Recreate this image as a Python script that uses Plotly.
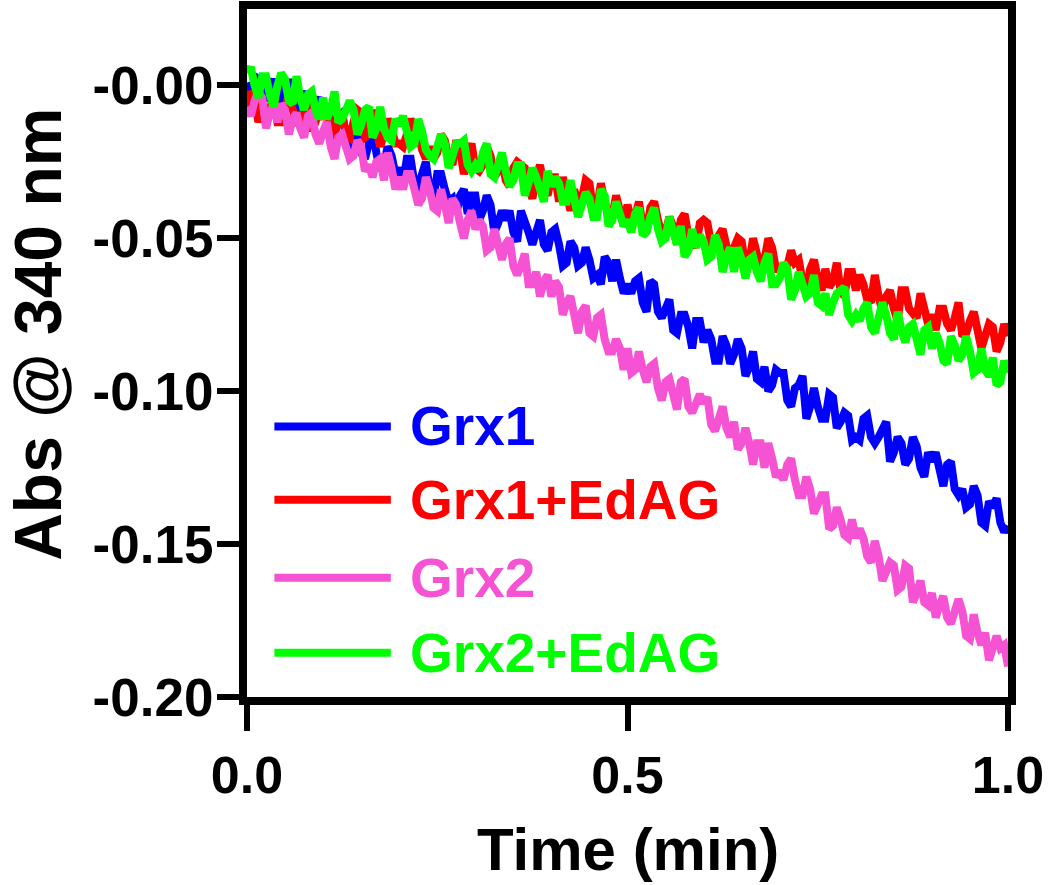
import plotly.graph_objects as go

# ---------------- data ----------------
# readings on the whole 0.01-min grid
TIME = [0.00, 0.01, 0.02, 0.03, 0.04, 0.05, 0.06, 0.07, 0.08, 0.09,
        0.10, 0.11, 0.12, 0.13, 0.14, 0.15, 0.16, 0.17, 0.18, 0.19,
        0.20, 0.21, 0.22, 0.23, 0.24, 0.25, 0.26, 0.27, 0.28, 0.29,
        0.30, 0.31, 0.32, 0.33, 0.34, 0.35, 0.36, 0.37, 0.38, 0.39,
        0.40, 0.41, 0.42, 0.43, 0.44, 0.45, 0.46, 0.47, 0.48, 0.49,
        0.50, 0.51, 0.52, 0.53, 0.54, 0.55, 0.56, 0.57, 0.58, 0.59,
        0.60, 0.61, 0.62, 0.63, 0.64, 0.65, 0.66, 0.67, 0.68, 0.69,
        0.70, 0.71, 0.72, 0.73, 0.74, 0.75, 0.76, 0.77, 0.78, 0.79,
        0.80, 0.81, 0.82, 0.83, 0.84, 0.85, 0.86, 0.87, 0.88, 0.89,
        0.90, 0.91, 0.92, 0.93, 0.94, 0.95, 0.96, 0.97, 0.98, 0.99,
        1.00]

# readings in between (half steps) - the noisy spikes of the traces
TIME_HALF = [0.005, 0.015, 0.025, 0.035, 0.045, 0.055, 0.065, 0.075, 0.085, 0.095,
             0.105, 0.115, 0.125, 0.135, 0.145, 0.155, 0.165, 0.175, 0.185, 0.195,
             0.205, 0.215, 0.225, 0.235, 0.245, 0.255, 0.265, 0.275, 0.285, 0.295,
             0.305, 0.315, 0.325, 0.335, 0.345, 0.355, 0.365, 0.375, 0.385, 0.395,
             0.405, 0.415, 0.425, 0.435, 0.445, 0.455, 0.465, 0.475, 0.485, 0.495,
             0.505, 0.515, 0.525, 0.535, 0.545, 0.555, 0.565, 0.575, 0.585, 0.595,
             0.605, 0.615, 0.625, 0.635, 0.645, 0.655, 0.665, 0.675, 0.685, 0.695,
             0.705, 0.715, 0.725, 0.735, 0.745, 0.755, 0.765, 0.775, 0.785, 0.795,
             0.805, 0.815, 0.825, 0.835, 0.845, 0.855, 0.865, 0.875, 0.885, 0.895,
             0.905, 0.915, 0.925, 0.935, 0.945, 0.955, 0.965, 0.975, 0.985, 0.995]

GRX1 = [0.001, -0.002, 0.001, -0.001, -0.003, 0.001, -0.005, -0.004, -0.009, -0.006,
        -0.009, -0.012, -0.010, -0.017, -0.013, -0.022, -0.019, -0.022, -0.025, -0.023,
        -0.027, -0.024, -0.032, -0.029, -0.034, -0.029, -0.034, -0.037, -0.036, -0.042,
        -0.036, -0.041, -0.039, -0.045, -0.044, -0.048, -0.041, -0.048, -0.048, -0.052,
        -0.048, -0.052, -0.058, -0.053, -0.058, -0.057, -0.062, -0.056, -0.064, -0.063,
        -0.065, -0.064, -0.071, -0.064, -0.074, -0.073, -0.080, -0.075, -0.079, -0.077,
        -0.084, -0.083, -0.090, -0.085, -0.088, -0.086, -0.092, -0.096, -0.092, -0.098,
        -0.094, -0.103, -0.099, -0.095, -0.105, -0.105, -0.109, -0.102, -0.110, -0.108,
        -0.115, -0.109, -0.115, -0.115, -0.110, -0.120, -0.117, -0.122, -0.118, -0.128,
        -0.123, -0.127, -0.124, -0.132, -0.132, -0.137, -0.134, -0.144, -0.138, -0.143,
        -0.144]
GRX1_HALF = [-0.003, 0.002, -0.005, 0.002, -0.007, 0.001, -0.010, -0.002, -0.010, -0.004,
             -0.006, -0.015, -0.009, -0.022, -0.015, -0.024, -0.015, -0.028, -0.020, -0.029,
             -0.032, -0.024, -0.033, -0.025, -0.037, -0.029, -0.038, -0.042, -0.034, -0.036,
             -0.044, -0.036, -0.048, -0.041, -0.041, -0.051, -0.044, -0.052, -0.044, -0.054,
             -0.047, -0.059, -0.051, -0.059, -0.053, -0.063, -0.065, -0.058, -0.057, -0.068,
             -0.068, -0.063, -0.074, -0.065, -0.076, -0.070, -0.081, -0.075, -0.086, -0.077,
             -0.080, -0.090, -0.082, -0.091, -0.083, -0.095, -0.087, -0.097, -0.100, -0.093,
             -0.094, -0.105, -0.098, -0.109, -0.099, -0.109, -0.101, -0.112, -0.107, -0.116,
             -0.116, -0.108, -0.117, -0.112, -0.123, -0.115, -0.124, -0.115, -0.125, -0.120,
             -0.120, -0.131, -0.123, -0.134, -0.138, -0.131, -0.143, -0.136, -0.135, -0.146]

GRX1_EDAG = [-0.008, -0.004, -0.008, -0.008, -0.012, -0.007, -0.008, -0.013, -0.006, -0.012,
             -0.011, -0.014, -0.009, -0.016, -0.012, -0.009, -0.016, -0.015, -0.016, -0.014,
             -0.019, -0.016, -0.014, -0.021, -0.020, -0.022, -0.018, -0.026, -0.021, -0.023,
             -0.027, -0.026, -0.023, -0.028, -0.031, -0.027, -0.026, -0.033, -0.030, -0.033,
             -0.030, -0.038, -0.035, -0.034, -0.037, -0.032, -0.040, -0.038, -0.043, -0.041,
             -0.039, -0.043, -0.046, -0.040, -0.044, -0.048, -0.046, -0.044, -0.049, -0.053,
             -0.044, -0.052, -0.049, -0.054, -0.053, -0.051, -0.058, -0.055, -0.057, -0.053,
             -0.060, -0.059, -0.058, -0.064, -0.060, -0.063, -0.060, -0.064, -0.067, -0.061,
             -0.067, -0.065, -0.071, -0.069, -0.069, -0.073, -0.067, -0.073, -0.076, -0.072,
             -0.075, -0.073, -0.078, -0.076, -0.082, -0.077, -0.080, -0.082, -0.079, -0.084,
             -0.082]
GRX1_EDAG_HALF = [-0.002, -0.012, -0.010, -0.003, -0.012, -0.003, -0.012, -0.006, -0.015, -0.008,
                  -0.007, -0.018, -0.009, -0.017, -0.008, -0.017, -0.008, -0.020, -0.011, -0.019,
                  -0.020, -0.011, -0.015, -0.024, -0.024, -0.016, -0.024, -0.018, -0.029, -0.019,
                  -0.028, -0.020, -0.030, -0.024, -0.033, -0.025, -0.027, -0.037, -0.026, -0.036,
                  -0.030, -0.030, -0.041, -0.039, -0.031, -0.041, -0.032, -0.042, -0.036, -0.046,
                  -0.044, -0.038, -0.048, -0.038, -0.049, -0.043, -0.052, -0.042, -0.051, -0.045,
                  -0.045, -0.054, -0.047, -0.058, -0.050, -0.059, -0.050, -0.060, -0.050, -0.060,
                  -0.062, -0.054, -0.057, -0.067, -0.057, -0.067, -0.066, -0.058, -0.069, -0.061,
                  -0.062, -0.070, -0.062, -0.074, -0.067, -0.077, -0.067, -0.075, -0.068, -0.078,
                  -0.080, -0.073, -0.080, -0.071, -0.081, -0.074, -0.086, -0.078, -0.087, -0.078]

GRX2 = [-0.007, -0.005, -0.004, -0.009, -0.012, -0.008, -0.011, -0.014, -0.010, -0.016,
        -0.015, -0.020, -0.017, -0.020, -0.023, -0.020, -0.026, -0.025, -0.031, -0.027,
        -0.030, -0.029, -0.034, -0.037, -0.034, -0.041, -0.039, -0.037, -0.045, -0.044,
        -0.047, -0.046, -0.053, -0.052, -0.052, -0.059, -0.059, -0.065, -0.061, -0.064,
        -0.069, -0.066, -0.071, -0.075, -0.074, -0.081, -0.076, -0.083, -0.087, -0.086,
        -0.086, -0.093, -0.093, -0.092, -0.099, -0.097, -0.101, -0.097, -0.105, -0.104,
        -0.104, -0.111, -0.109, -0.112, -0.110, -0.117, -0.117, -0.117, -0.125, -0.122,
        -0.126, -0.124, -0.129, -0.134, -0.132, -0.137, -0.134, -0.144, -0.142, -0.148,
        -0.148, -0.148, -0.156, -0.154, -0.159, -0.157, -0.164, -0.158, -0.166, -0.169,
        -0.166, -0.170, -0.174, -0.172, -0.172, -0.181, -0.179, -0.179, -0.184, -0.184,
        -0.190]
GRX2_HALF = [-0.010, -0.002, -0.014, -0.006, -0.006, -0.016, -0.009, -0.017, -0.009, -0.019,
             -0.012, -0.024, -0.016, -0.024, -0.018, -0.028, -0.030, -0.024, -0.022, -0.034,
             -0.034, -0.029, -0.039, -0.030, -0.040, -0.034, -0.045, -0.039, -0.050, -0.041,
             -0.044, -0.054, -0.047, -0.057, -0.050, -0.062, -0.055, -0.065, -0.069, -0.062,
             -0.064, -0.075, -0.069, -0.081, -0.072, -0.082, -0.075, -0.087, -0.083, -0.093,
             -0.094, -0.087, -0.097, -0.091, -0.103, -0.096, -0.106, -0.096, -0.107, -0.101,
             -0.102, -0.113, -0.105, -0.115, -0.119, -0.112, -0.124, -0.117, -0.117, -0.128,
             -0.129, -0.122, -0.134, -0.128, -0.140, -0.134, -0.145, -0.138, -0.147, -0.142,
             -0.145, -0.154, -0.149, -0.162, -0.156, -0.165, -0.157, -0.169, -0.162, -0.170,
             -0.174, -0.167, -0.176, -0.168, -0.180, -0.173, -0.183, -0.188, -0.180, -0.183]

GRX2_EDAG = [0.004, 0.000, 0.003, -0.003, 0.000, 0.002, -0.006, -0.004, -0.003, -0.008,
             -0.004, -0.008, -0.012, -0.008, -0.008, -0.013, -0.007, -0.014, -0.014, -0.018,
             -0.013, -0.015, -0.019, -0.015, -0.023, -0.020, -0.019, -0.023, -0.019, -0.026,
             -0.026, -0.022, -0.029, -0.026, -0.028, -0.031, -0.026, -0.032, -0.030, -0.038,
             -0.033, -0.032, -0.038, -0.037, -0.039, -0.037, -0.043, -0.036, -0.044, -0.042,
             -0.044, -0.042, -0.049, -0.043, -0.047, -0.050, -0.048, -0.046, -0.054, -0.053,
             -0.051, -0.056, -0.052, -0.056, -0.061, -0.057, -0.057, -0.061, -0.058, -0.065,
             -0.063, -0.060, -0.067, -0.065, -0.068, -0.071, -0.068, -0.071, -0.067, -0.075,
             -0.075, -0.073, -0.079, -0.076, -0.075, -0.083, -0.080, -0.079, -0.083, -0.080,
             -0.086, -0.084, -0.091, -0.085, -0.088, -0.087, -0.093, -0.093, -0.089, -0.097,
             -0.094]
GRX2_EDAG_HALF = [0.006, -0.004, 0.003, -0.007, 0.004, -0.005, 0.003, -0.008, -0.002, -0.011,
                  -0.011, -0.002, -0.011, -0.005, -0.016, -0.008, -0.017, -0.007, -0.017, -0.011,
                  -0.010, -0.020, -0.011, -0.021, -0.024, -0.016, -0.027, -0.019, -0.018, -0.028,
                  -0.028, -0.019, -0.030, -0.022, -0.033, -0.026, -0.036, -0.027, -0.035, -0.028,
                  -0.030, -0.038, -0.031, -0.043, -0.035, -0.043, -0.034, -0.046, -0.038, -0.046,
                  -0.048, -0.040, -0.048, -0.040, -0.051, -0.043, -0.052, -0.056, -0.047, -0.049,
                  -0.057, -0.049, -0.061, -0.053, -0.053, -0.063, -0.056, -0.064, -0.055, -0.065,
                  -0.058, -0.070, -0.061, -0.069, -0.062, -0.072, -0.075, -0.068, -0.066, -0.077,
                  -0.077, -0.071, -0.081, -0.071, -0.081, -0.074, -0.084, -0.078, -0.088, -0.079,
                  -0.081, -0.090, -0.082, -0.090, -0.082, -0.094, -0.086, -0.095, -0.098, -0.090]

SERIES_NAMES = ["Grx1", "Grx1+EdAG", "Grx2", "Grx2+EdAG"]
SERIES_COLORS = ["#0000FF", "#FF0000", "#F552D4", "#00FF00"]

Y_TICKVALS = [-0.20, -0.15, -0.10, -0.05, 0.00]
Y_TICKTEXT = ["-0.20", "-0.15", "-0.10", "-0.05", "-0.00"]
X_TICKVALS = [0.0, 0.5, 1.0]
X_TICKTEXT = ["0.0", "0.5", "1.0"]

X_TITLE = "Time (min)"
Y_TITLE = "Abs @ 340 nm"

# ---------------- figure ----------------
FONT = "Liberation Sans, Arial, sans-serif"
series = [(GRX1, GRX1_HALF), (GRX1_EDAG, GRX1_EDAG_HALF),
          (GRX2, GRX2_HALF), (GRX2_EDAG, GRX2_EDAG_HALF)]

fig = go.Figure()
for name, (whole, half), col in zip(SERIES_NAMES, series, SERIES_COLORS):
    pts = sorted(list(zip(TIME, whole)) + list(zip(TIME_HALF, half)))
    fig.add_trace(go.Scatter(x=[p[0] for p in pts], y=[p[1] for p in pts], mode="lines",
                             name=name, line=dict(color=col, width=8), showlegend=False,
                             hoverinfo="skip"))

# manual legend (long line samples + coloured bold labels)
legend_rows_y = [-0.1115, -0.1355, -0.161, -0.1855]
for name, col, yy in zip(SERIES_NAMES, SERIES_COLORS, legend_rows_y):
    fig.add_shape(type="line", xref="x", yref="y", x0=0.036, x1=0.189, y0=yy, y1=yy,
                  line=dict(color=col, width=8))
    fig.add_annotation(x=0.211, y=yy, xref="x", yref="y", text="<b>%s</b>" % name,
                       showarrow=False, xanchor="left", yanchor="middle",
                       font=dict(family=FONT, size=55, color=col))

# axis titles
fig.add_annotation(x=-0.3254, y=0.527, xref="paper", yref="paper", text="<b>%s</b>" % Y_TITLE,
                   textangle=-90, showarrow=False, xanchor="left", yanchor="middle",
                   font=dict(family=FONT, size=66, color="black"))
fig.add_annotation(x=0.5, y=-0.221, xref="paper", yref="paper", text="<b>%s</b>" % X_TITLE,
                   showarrow=False, xanchor="center", yanchor="middle",
                   font=dict(family=FONT, size=60, color="black"))

axis_common = dict(showline=True, linecolor="black", linewidth=8, mirror=True,
                   ticks="outside", tickcolor="black", tickwidth=6,
                   showgrid=False, zeroline=False)

fig.update_xaxes(range=[0, 1], tickvals=X_TICKVALS, ticktext=["<b>%s</b>" % t for t in X_TICKTEXT],
                 ticklen=26, tickfont=dict(family=FONT, size=52, color="black"), **axis_common)
fig.update_yaxes(range=[-0.2, 0.025], tickvals=Y_TICKVALS, ticktext=["<b>%s</b>" % t for t in Y_TICKTEXT],
                 ticklen=22, ticklabelstandoff=-7,
                 tickfont=dict(family=FONT, size=53, color="black"), **axis_common)

fig.update_layout(width=1050, height=885, margin=dict(l=247, r=42, t=1, b=188),
                  paper_bgcolor="white", plot_bgcolor="white", showlegend=False)

fig.write_html("out.html", config={"displayModeBar": False},
               post_script="document.body.style.margin='0';")
